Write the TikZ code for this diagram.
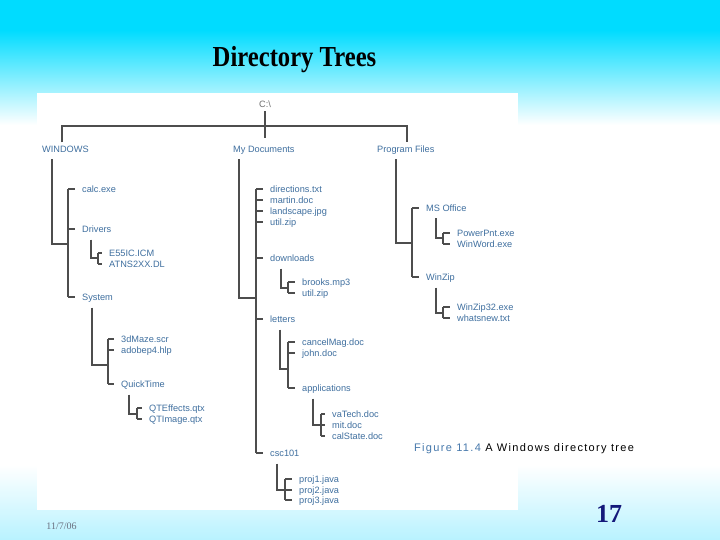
\documentclass[tikz,border=0pt]{standalone}
\usepackage{fontspec}
\setmainfont{Liberation Serif}
\newfontfamily\treefont{Liberation Sans}
\newfontfamily\capfont[LetterSpace=12]{Liberation Sans}
\definecolor{cyantop}{HTML}{00DCFF}
\definecolor{cyanbot}{HTML}{B8F2FF}
\definecolor{txtblue}{HTML}{3F6F9F}
\definecolor{figblue}{HTML}{4779AC}
\definecolor{linegray}{HTML}{4D4D4D}
\definecolor{rootgray}{HTML}{6E6E6E}
\definecolor{datecol}{HTML}{6A7080}
\definecolor{numcol}{HTML}{14187A}
\tikzset{
  lbl/.style={anchor=west, inner sep=0pt, text height=6.6pt, text depth=0pt,
    font=\treefont\fontsize{9.2}{10}\selectfont, text=txtblue},
  conn/.style={draw=linegray, line width=1.1pt}
}
\newcommand\fork[7]{%
  \coordinate (bx) at (#4,0);
  \draw[conn] ([xshift=#2pt,yshift=-7pt]#1.south west) |- (#4,#3);
  \draw[conn] (#5.west -| bx) -- (#6.west -| bx);
  \foreach \c in {#7} \draw[conn] (\c.west -| bx) -- ([xshift=-7pt]\c.west);
}
\begin{document}
\begin{tikzpicture}[x=1pt,y=-1pt]
\useasboundingbox (0,0) rectangle (720,540);
% background
\fill[cyantop] (0,0) rectangle (720,30);
\shade[top color=cyantop, bottom color=white] (0,30) rectangle (720,125);
\fill[white] (0,125) rectangle (720,465);
\shade[top color=white, bottom color=cyanbot] (0,465) rectangle (720,540);
\fill[white] (37,93) rectangle (518,510);
% title
\node[font=\bfseries\fontsize{29}{32}\selectfont, xscale=0.85, text=black] (title) at (294.5,60) {Directory Trees};
% tree labels
\node[lbl, anchor=center, text=rootgray] (root) at (265,104) {C:\textbackslash};
\node[lbl] (win) at (42,149) {WINDOWS};
\node[lbl] (mydoc) at (233,149) {My Documents};
\node[lbl] (prog) at (377,149) {Program Files};
\node[lbl] (calc) at (82,189) {calc.exe};
\node[lbl] (drivers) at (82,229) {Drivers};
\node[lbl] (system) at (82,297) {System};
\node[lbl] (e55) at (109,253) {E55IC.ICM};
\node[lbl] (atns) at (109,264) {ATNS2XX.DL};
\node[lbl] (maze) at (121,339) {3dMaze.scr};
\node[lbl] (adobe) at (121,350) {adobep4.hlp};
\node[lbl] (qt) at (121,384) {QuickTime};
\node[lbl] (qte) at (149,408) {QTEffects.qtx};
\node[lbl] (qti) at (149,419) {QTImage.qtx};
\node[lbl] (dirs) at (270,189) {directions.txt};
\node[lbl] (martin) at (270,200) {martin.doc};
\node[lbl] (land) at (270,211) {landscape.jpg};
\node[lbl] (utilA) at (270,222) {util.zip};
\node[lbl] (down) at (270,258) {downloads};
\node[lbl] (letters) at (270,319) {letters};
\node[lbl] (csc) at (270,453) {csc101};
\node[lbl] (brooks) at (302,282) {brooks.mp3};
\node[lbl] (utilB) at (302,293) {util.zip};
\node[lbl] (cancel) at (302,342) {cancelMag.doc};
\node[lbl] (john) at (302,353) {john.doc};
\node[lbl] (apps) at (302,388) {applications};
\node[lbl] (vatech) at (332,414) {vaTech.doc};
\node[lbl] (mit) at (332,425) {mit.doc};
\node[lbl] (cal) at (332,436) {calState.doc};
\node[lbl] (p1) at (299,479) {proj1.java};
\node[lbl] (p2) at (299,490) {proj2.java};
\node[lbl] (p3) at (299,500) {proj3.java};
\node[lbl] (mso) at (426,208) {MS Office};
\node[lbl] (winzip) at (426,277) {WinZip};
\node[lbl] (ppt) at (457,233) {PowerPnt.exe};
\node[lbl] (word) at (457,244) {WinWord.exe};
\node[lbl] (wz32) at (457,307) {WinZip32.exe};
\node[lbl] (whats) at (457,318) {whatsnew.txt};
% top connectors
\draw[conn] ([xshift=20pt,yshift=3pt]win.north west) |- (265,126) -| ([xshift=30pt,yshift=3pt]prog.north west);
\draw[conn] ([yshift=-4pt]root.south) -- ([yshift=7pt]mydoc.north -| root.south);
% forks
\fork{win}{10}{244}{68}{calc}{system}{calc,drivers,system}
\fork{drivers}{9}{258}{98}{e55}{atns}{e55,atns}
\fork{system}{10}{365}{108}{maze}{qt}{maze,adobe,qt}
\fork{qt}{8}{414}{137}{qte}{qti}{qte,qti}
\fork{mydoc}{6}{298}{256}{dirs}{csc}{dirs,martin,land,utilA,down,letters,csc}
\fork{down}{11}{288}{288}{brooks}{utilB}{brooks,utilB}
\fork{letters}{10}{369}{288}{cancel}{apps}{cancel,john,apps}
\fork{apps}{11}{425}{321}{vatech}{cal}{vatech,mit,cal}
\fork{csc}{7}{490}{285}{p1}{p3}{p1,p2,p3}
\fork{prog}{19}{243}{412}{mso}{winzip}{mso,winzip}
\fork{mso}{10}{238}{443}{ppt}{word}{ppt,word}
\fork{winzip}{10}{313}{443}{wz32}{whats}{wz32,whats}
% caption
\node[anchor=west, inner sep=0pt, font=\capfont\fontsize{11}{13}\selectfont] (cap) at (414,449)
  {\textcolor{figblue}{Figure 11.4} A Windows directory tree};
% footer
\node[font=\fontsize{10}{12}\selectfont, text=datecol] (date) at (61.5,526) {11/7/06};
\node[font=\bfseries\fontsize{26}{30}\selectfont, text=numcol] (num) at (609,514) {17};
\end{tikzpicture}
\end{document}
